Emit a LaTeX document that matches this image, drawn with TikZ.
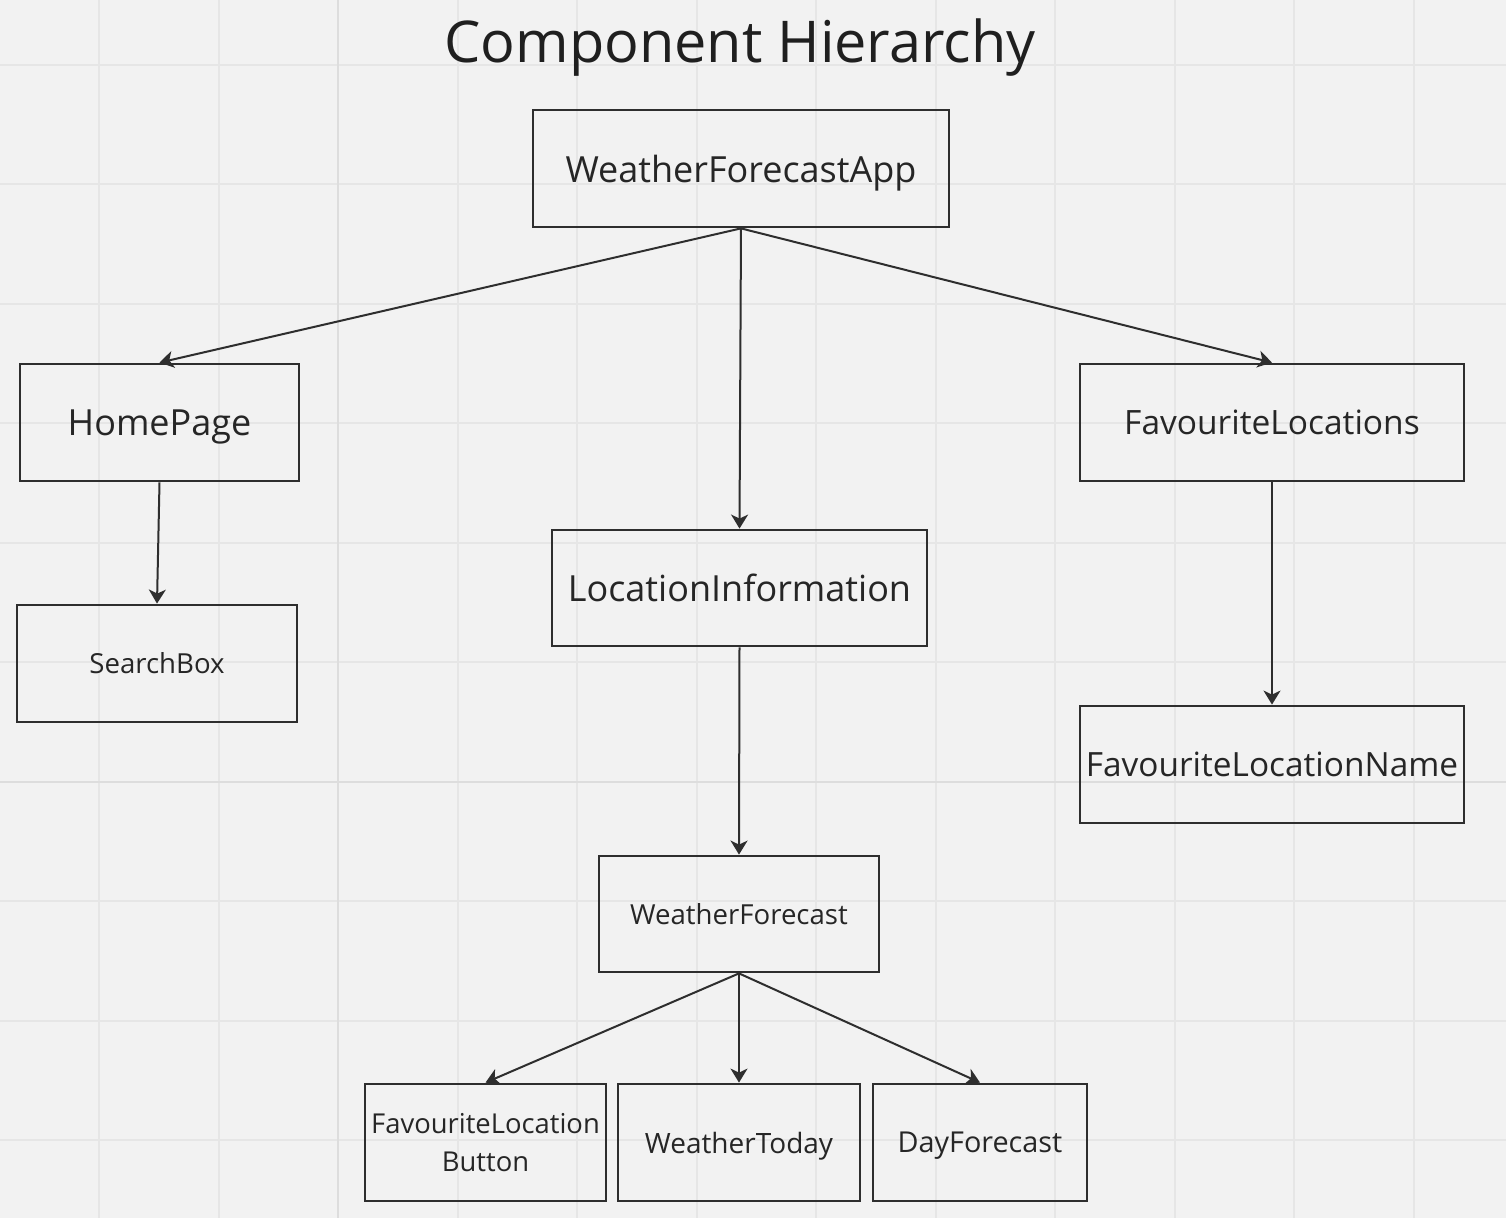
\documentclass[tikz,border=0pt]{standalone}
\usepackage{fontspec}
\setmainfont{Open Sans}
\usetikzlibrary{arrows.meta}
\definecolor{bg}{HTML}{F2F2F2}
\definecolor{gridc}{HTML}{E6E6E6}
\definecolor{gridd}{HTML}{DDDDDD}
\definecolor{ink}{HTML}{2E2E2E}
\definecolor{txt}{HTML}{262626}
\begin{document}
\begin{tikzpicture}[x=0.5pt,y=-0.5pt,
  box/.style={draw=ink, line width=1.4pt, inner sep=0pt, text=txt, align=center, text depth=-2pt},
  lowbox/.style={box, text depth=-4pt},
  conn/.style={draw=ink, line width=1pt, -{Stealth[length=7pt,width=8.5pt,inset=2pt]}},
  ]
\fill[bg] (0,0) rectangle (1506,1218);
\useasboundingbox (0,0) rectangle (1506,1218);
\foreach \k in {0,...,11} {\draw[gridc, line width=1pt] ({99+119.5*\k},0) -- ({99+119.5*\k},1218);}
\foreach \k in {0,...,9} {\draw[gridc, line width=1pt] (0,{65+119.5*\k}) -- (1506,{65+119.5*\k});}
\draw[gridd, line width=1pt] (338,0) -- (338,1218);
\draw[gridd, line width=1pt] (0,782) -- (1506,782);

\node[text=black!88, font=\fontsize{28.8}{34}\selectfont] (title) at (740,48) {Component Hierarchy};

\node[box, minimum width=208pt, minimum height=58.5pt, font=\fontsize{18}{22}\selectfont] (wfa) at (741,168.5) {WeatherForecastApp};
\node[box, minimum width=139.5pt, minimum height=58.5pt, font=\fontsize{18}{22}\selectfont] (home) at (159.5,422.5) {HomePage};
\node[lowbox, minimum width=192pt, minimum height=58.5pt, font=\fontsize{16.75}{20}\selectfont] (favs) at (1272,422.5) {FavouriteLocations};
\node[lowbox, minimum width=140pt, minimum height=58.5pt, font=\fontsize{13.8}{16}\selectfont] (search) at (157,663.5) {SearchBox};
\node[lowbox, minimum width=187.5pt, minimum height=58pt, font=\fontsize{18}{21}\selectfont] (loc) at (739.5,588) {LocationInformation};
\node[lowbox, minimum width=192pt, minimum height=58.5pt, font=\fontsize{16.7}{20}\selectfont] (favname) at (1272,764.5) {FavouriteLocationName};
\node[lowbox, minimum width=140pt, minimum height=58pt, font=\fontsize{13.8}{16}\selectfont] (wf) at (739,914) {WeatherForecast};
\node[box, minimum width=120.5pt, minimum height=58.5pt, font=\fontsize{13.7}{19}\selectfont, text depth=-7pt] (flb) at (485.5,1142.5) {FavouriteLocation\\Button};
\node[box, minimum width=121pt, minimum height=58.5pt, font=\fontsize{14}{16}\selectfont] (wt) at (739,1142.5) {WeatherToday};
\node[box, minimum width=107pt, minimum height=58.5pt, font=\fontsize{14.4}{17}\selectfont] (df) at (980,1142.5) {DayForecast};

\draw[conn] (wfa.south) -- (home.north);
\draw[conn] (wfa.south) -- (loc.north);
\draw[conn] (wfa.south) -- (favs.north);
\draw[conn] (home.south) -- (search.north);
\draw[conn] (loc.south) -- (wf.north);
\draw[conn] (favs.south) -- (favname.north);
\draw[conn] (wf.south) -- (flb.north);
\draw[conn] (wf.south) -- (wt.north);
\draw[conn] (wf.south) -- (df.north);
\end{tikzpicture}
\end{document}
